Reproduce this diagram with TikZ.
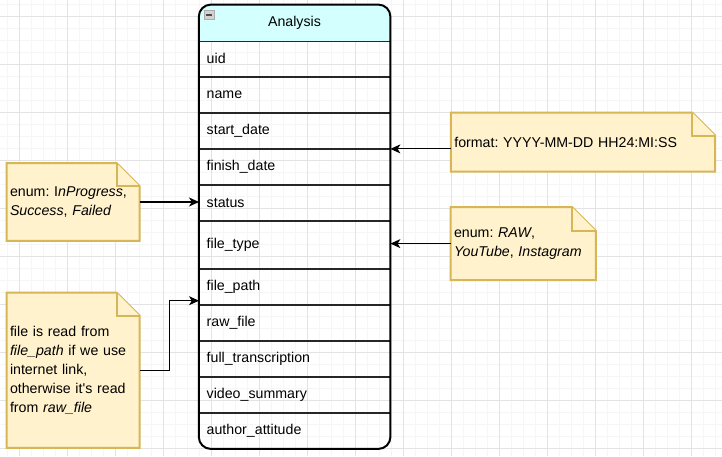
\documentclass[tikz,border=0pt]{standalone}
\usepackage{fontspec}
\setmainfont{Liberation Sans}
\usetikzlibrary{arrows.meta,backgrounds,positioning}

\definecolor{notefill}{RGB}{255,242,204}
\definecolor{noteline}{RGB}{214,182,86}
\definecolor{headfill}{RGB}{212,255,255}

\tikzset{
  every node/.style={font=\fontsize{14.2}{19}\selectfont\frenchspacing},
  rowbox/.style={anchor=west, minimum width=191pt, minimum height=36pt, inner xsep=7.5pt, text width=176pt, align=left},
  notebox/.style={inner xsep=3.3pt, inner ysep=0pt, align=left},
  noteshape/.style={fill=notefill, draw=noteline, line width=2pt, line join=miter},
  arr/.style={line width=1.1pt, -{Stealth[length=10pt,width=9pt,inset=2.8pt]}},
}

\begin{document}
\begin{tikzpicture}[x=1pt,y=-1pt]
\useasboundingbox (0,0) rectangle (722,456);
\begin{scope}[on background layer]
\fill[white] (0,0) rectangle (722,456);
\foreach \x in {7.3,19.3,...,722} \draw[gray!7, line width=0.8pt] (\x,0) -- (\x,456);
\foreach \y in {4.3,16.3,...,456} \draw[gray!7, line width=0.8pt] (0,\y) -- (722,\y);
\foreach \x in {19.3,67.3,...,722} \draw[gray!22, line width=0.8pt] (\x,0) -- (\x,456);
\foreach \y in {16.3,64.3,...,456} \draw[gray!22, line width=0.8pt] (0,\y) -- (722,\y);
\end{scope}

% table
\node[minimum width=191pt, minimum height=36.4pt] (hdr) at (294.5,23) {Analysis};
\begin{scope}[on background layer]
\fill[headfill] (hdr.south west) {[rounded corners=12pt] -- (hdr.north west) -- (hdr.north east)} -- (hdr.south east) -- cycle;
\end{scope}
\foreach \nm/\txt/\y in {uid/uid/58.7, name/name/94.7, start/start\_date/130.7,
    finish/finish\_date/166.7, status/status/202.7, fpath/file\_path/286.7,
    raw/raw\_file/322.7, trans/full\_transcription/358.7, summ/video\_summary/394.7,
    attit/author\_attitude/430.7}
  \node[rowbox] (\nm) at (199,\y) {\txt};
\node[rowbox, minimum height=48pt] (ftype) at (199,244.7) {file\_type};
\foreach \nm in {hdr,uid,name,start,finish,status,ftype,fpath,raw,trans,summ}
  \draw[line width=1.3pt, black!85] (\nm.south west) -- (\nm.south east);
\draw[line width=2pt, rounded corners=12pt] (hdr.north west) rectangle (attit.south east);
\draw[fill=gray!35, draw=gray!65, line width=0.6pt] (204.5,10.5) rectangle (214,19.5);
\draw[black!70, line width=1.2pt] (206.3,15) -- (212.2,15);

% notes
\node[notebox, text width=257.4pt, minimum height=58.6pt] (fmtnote) at (583,142) {format: YYYY-MM-DD HH24:MI:SS};
\node[notebox, text width=126pt, minimum height=77.4pt] (stnote) at (73,202) {enum: I\textit{nProgress},\\\textit{Success}, \textit{Failed}};
\node[notebox, text width=138.4pt, minimum height=72.7pt] (ftnote) at (523.2,243.6) {enum: \textit{RAW},\\\textit{YouTube}, \textit{Instagram}};
\node[notebox, text width=126pt, minimum height=155pt] (fnote) at (73,370.2) {file is read from\\\textit{file\_path} if we use\\internet link,\\otherwise it\textquotesingle s read\\from \textit{raw\_file}};
\begin{scope}[on background layer]
\foreach \nt/\f in {fmtnote/23, stnote/23, ftnote/24, fnote/23} {
  \draw[noteshape] (\nt.north west) -- ([xshift=-\f pt]\nt.north east) -- ([yshift=-\f pt]\nt.north east) -- (\nt.south east) -- (\nt.south west) -- cycle;
  \draw[noteshape] ([xshift=-\f pt]\nt.north east) -- ([xshift=-\f pt, yshift=-\f pt]\nt.north east) -- ([yshift=-\f pt]\nt.north east);
}
\end{scope}

% connectors
\draw[arr] (fmtnote.west |- start.south east) -- (start.south east);
\draw[arr] (stnote.east) -- (stnote.east -| status.west);
\draw[arr] (ftnote.west) -- (ftnote.west -| ftype.east);
\draw[arr] (fnote.east) -- ++(30,0) |- ([yshift=-14pt]fpath.west);
\end{tikzpicture}
\end{document}
